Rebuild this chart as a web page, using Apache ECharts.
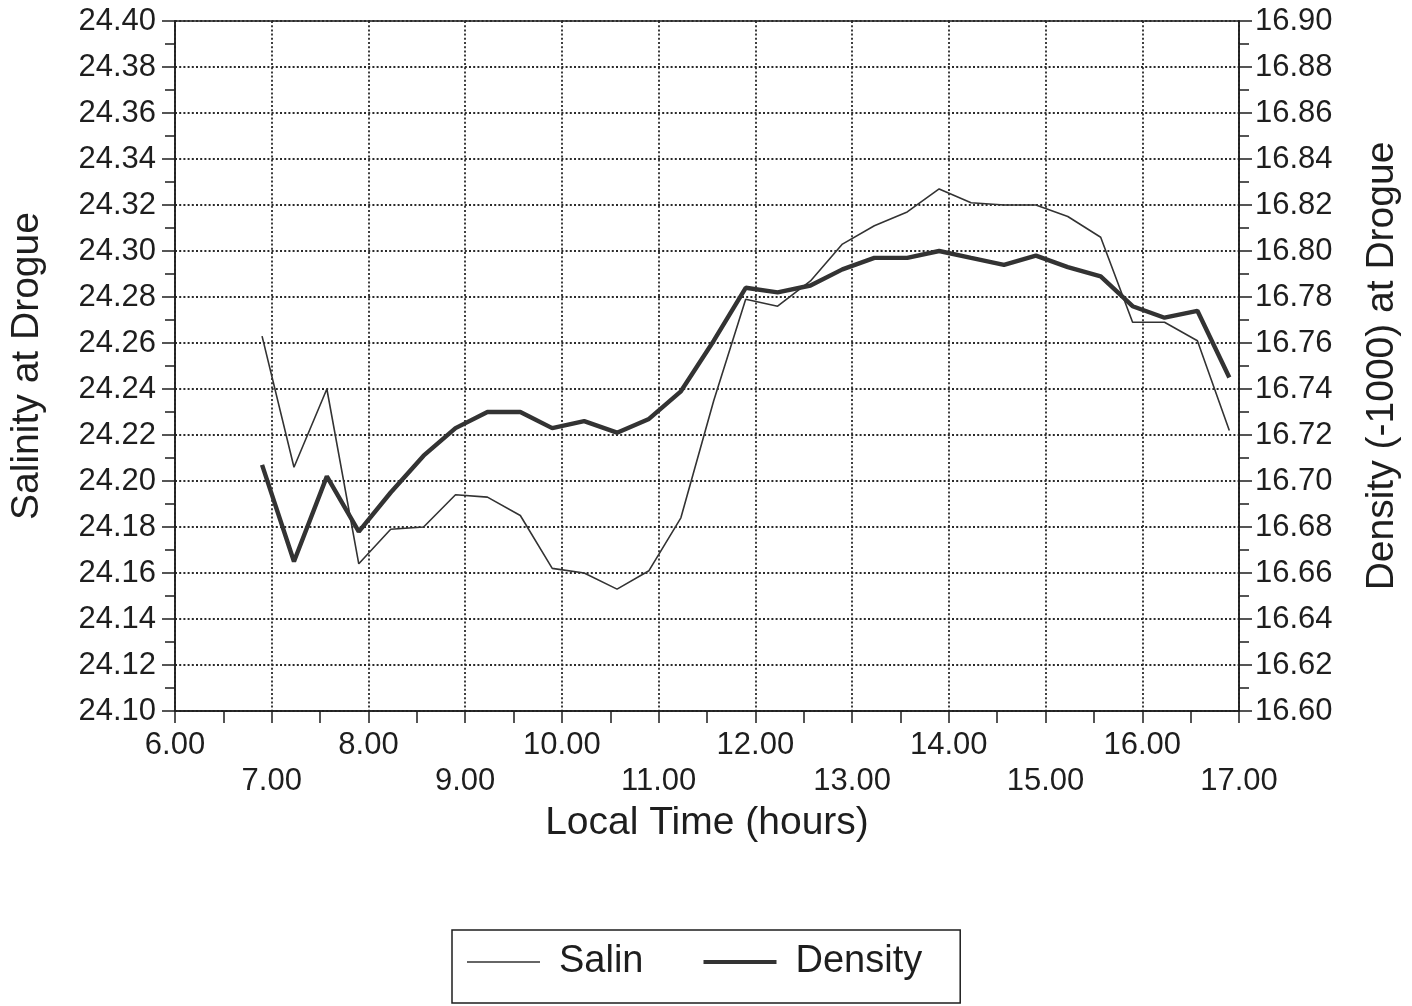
<!DOCTYPE html>
<html>
<head>
<meta charset="utf-8">
<script src="https://cdn.jsdelivr.net/npm/echarts@6/dist/echarts.min.js"></script>
<style>html,body{margin:0;padding:0;background:#fff;}#c{width:1412px;height:1006px;}</style>
</head>
<body>
<div id="c"></div>
<script>
const times = [6.90, 7.23, 7.57, 7.90, 8.23, 8.57, 8.90, 9.23, 9.57, 9.90, 10.23, 10.57, 10.90, 11.23, 11.57, 11.90, 12.23, 12.57, 12.90, 13.23, 13.57, 13.90, 14.23, 14.57, 14.90, 15.23, 15.57, 15.90, 16.23, 16.57, 16.90];
const salin = [24.263, 24.206, 24.240, 24.164, 24.179, 24.180, 24.194, 24.193, 24.185, 24.162, 24.160, 24.153, 24.161, 24.184, 24.235, 24.279, 24.276, 24.287, 24.303, 24.311, 24.317, 24.327, 24.321, 24.320, 24.320, 24.315, 24.306, 24.269, 24.269, 24.261, 24.222];
const density = [16.707, 16.665, 16.702, 16.678, 16.695, 16.711, 16.723, 16.730, 16.730, 16.723, 16.726, 16.721, 16.727, 16.739, 16.761, 16.784, 16.782, 16.785, 16.792, 16.797, 16.797, 16.800, 16.797, 16.794, 16.798, 16.793, 16.789, 16.776, 16.771, 16.774, 16.745];
const seriesNames = ['Salin', 'Density'];
const xTitle = 'Local Time (hours)';
const yLeftTitle = 'Salinity at Drogue';
const yRightTitle = 'Density (-1000) at Drogue';

const FONT = '"Liberation Sans", Arial, sans-serif';
const INK = '#1e1e1e';
const GRID = '#2a2a2a';
const chart = echarts.init(document.getElementById('c'), null, {renderer: 'canvas'});

function yAxisCfg(min, max, name, pos, gap) {
  return {
    type: 'value', position: pos, min: min, max: max, interval: 0.02,
    name: name, nameLocation: 'middle', nameGap: gap,
    nameTextStyle: {fontFamily: FONT, fontSize: 39, color: INK},
    axisLine: {show: true, lineStyle: {color: INK, width: 1.5}},
    axisTick: {show: true, inside: false, length: 13, lineStyle: {color: INK, width: 1.5}},
    minorTick: {show: true, splitNumber: 2, length: 10, lineStyle: {color: INK, width: 1.5}},
    axisLabel: {fontFamily: FONT, fontSize: 31, color: INK, margin: pos === 'left' ? 19 : 16,
      formatter: v => v.toFixed(2)},
    splitLine: {show: pos === 'left', lineStyle: {color: GRID, width: 1.8, type: [2, 2.2]}}
  };
}

const option = {
  backgroundColor: '#fff',
  animation: false,
  grid: {left: 171, right: 173, top: 21, bottom: 295, show: true, borderColor: INK, borderWidth: 1.5, backgroundColor: 'transparent'},
  legend: {
    data: [
      {name: seriesNames[0], icon: 'path://M0,0h73v1.6h-73z'},
      {name: seriesNames[1], icon: 'path://M0,0h73v4.2h-73z'}
    ],
    top: 930, left: 452,
    borderColor: INK, borderWidth: 1.5,
    padding: [13, 38, 22, 15],
    itemWidth: 73, itemHeight: 16, itemGap: 60,
    textStyle: {fontFamily: FONT, fontSize: 38, color: INK, padding: [0, 0, 0, 14]}
  },
  xAxis: {
    type: 'value', min: 6, max: 17, interval: 1,
    name: xTitle, nameLocation: 'middle', nameGap: 92,
    nameTextStyle: {fontFamily: FONT, fontSize: 39, color: INK},
    axisLine: {show: true, lineStyle: {color: INK, width: 1.5}},
    axisTick: {show: true, length: 12, lineStyle: {color: INK, width: 1.5}},
    minorTick: {show: true, splitNumber: 2, length: 12, lineStyle: {color: INK, width: 1.5}},
    axisLabel: {fontFamily: FONT, fontSize: 31, color: INK, margin: 16, lineHeight: 36,
      formatter: v => (Math.round(v) % 2 === 0 ? v.toFixed(2) : '\n' + v.toFixed(2))},
    splitLine: {show: true, lineStyle: {color: GRID, width: 1.8, type: [2, 2.2]}}
  },
  yAxis: [
    yAxisCfg(24.10, 24.40, yLeftTitle, 'left', 128),
    yAxisCfg(16.60, 16.90, yRightTitle, 'right', 124)
  ],
  series: [
    {name: seriesNames[0], type: 'line', yAxisIndex: 0, showSymbol: false, symbol: 'none',
     lineStyle: {color: '#333', width: 1.6}, itemStyle: {color: '#333'},
     data: times.map((t, i) => [t, salin[i]])},
    {name: seriesNames[1], type: 'line', yAxisIndex: 1, showSymbol: false, symbol: 'none',
     lineStyle: {color: '#333', width: 4.4}, itemStyle: {color: '#333'},
     data: times.map((t, i) => [t, density[i]])}
  ]
};
chart.setOption(option);
</script>
</body>
</html>
